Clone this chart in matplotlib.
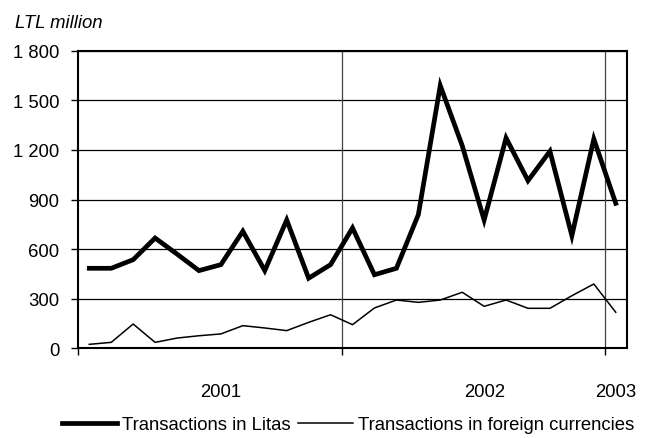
import matplotlib.pyplot as plt
from matplotlib.ticker import FuncFormatter
import matplotlib.transforms as mtransforms

# monthly data, Jan 2001 - Jan 2003
months = list(range(25))
litas = [484, 484, 536, 667, 570, 470, 506, 708, 470, 776, 424, 506,
         728, 445, 484, 808, 1589, 1226, 776, 1272, 1014, 1192, 681, 1266, 877]
foreign = [24, 36, 147, 36, 62, 76, 87, 137, 123, 107, 157, 203,
           143, 244, 292, 278, 292, 339, 254, 292, 242, 242, 318, 389, 218]
years = ['2001', '2002', '2003']
year_pos = [6, 18, 24]
year_bounds = [-0.5, 11.5, 23.5]

plt.rcParams['font.family'] = ['Liberation Sans', 'DejaVu Sans']
plt.rcParams['font.size'] = 13.3

fig = plt.figure(figsize=(6.51, 4.39), dpi=100)
ax = fig.add_axes([0.1203, 0.2043, 0.8424, 0.6779])

ax.plot(months, litas, color='black', lw=3.4, solid_joinstyle='miter',
        label='Transactions in Litas', zorder=3)
ax.plot(months, foreign, color='black', lw=1.1,
        label='Transactions in foreign currencies', zorder=3)

ax.set_xlim(-0.5, 24.5)
ax.set_ylim(0, 1800)
ax.set_yticks(range(0, 1801, 300))
ax.yaxis.set_major_formatter(FuncFormatter(lambda v, p: f'{int(v):,}'.replace(',', ' ')))
ax.yaxis.grid(True, color='black', lw=0.9)
for b in year_bounds[1:]:
    ax.axvline(b, color='#444444', lw=0.9, zorder=2)
ax.set_xticks(year_bounds)
ax.set_xticklabels([])
ax.tick_params(axis='both', direction='out', length=5, width=1, color='black')
ax.tick_params(axis='y', pad=8.5)
for s in ax.spines.values():
    s.set_linewidth(1.5)

trans = mtransforms.blended_transform_factory(ax.transData, ax.transAxes)
for y, xp in zip(years, year_pos):
    ax.text(xp, -0.145, y, transform=trans, ha='center', va='center')

fig.text(0.023, 0.936, 'LTL million', style='italic', ha='left', va='baseline')

fig.legend(loc='center', bbox_to_anchor=(0.535, 0.03), ncol=2, frameon=False,
           handlelength=2.98, handletextpad=0.27, columnspacing=0.38,
           borderpad=0, borderaxespad=0)

fig.savefig('out.png', dpi=100)
